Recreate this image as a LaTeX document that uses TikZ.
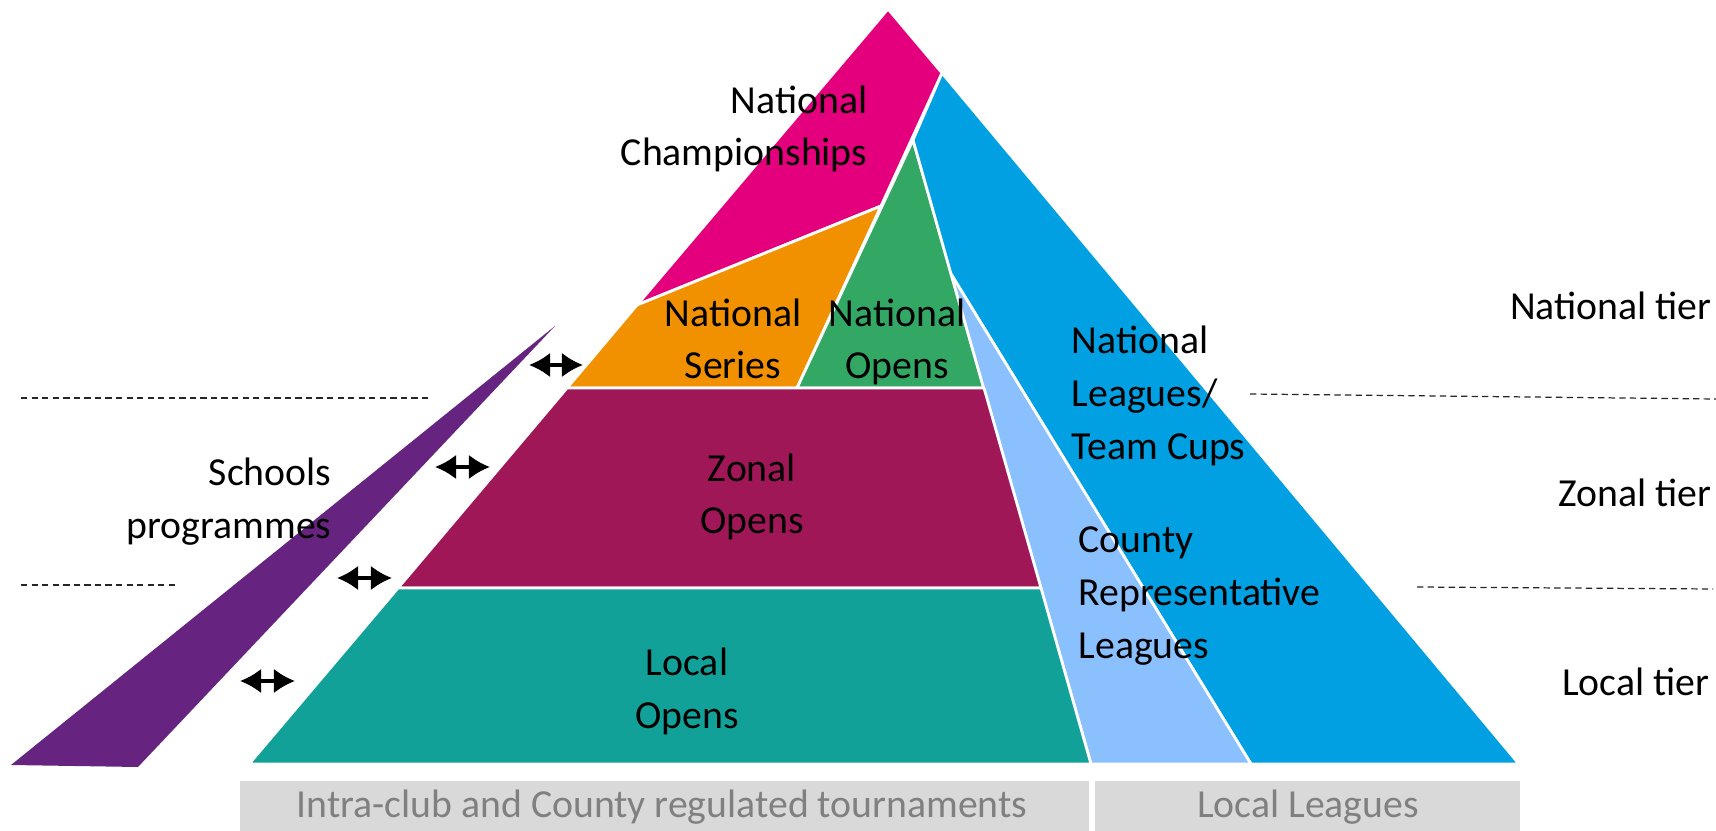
\documentclass[tikz,border=0pt]{standalone}
\usepackage{fontspec}
\setmainfont{Carlito}
\usetikzlibrary{arrows.meta}
\definecolor{cMag}{RGB}{228,0,124}
\definecolor{cOra}{RGB}{241,145,0}
\definecolor{cGre}{RGB}{50,168,100}
\definecolor{cBlu}{RGB}{0,160,226}
\definecolor{cLbl}{RGB}{139,192,255}
\definecolor{cMar}{RGB}{160,23,88}
\definecolor{cTea}{RGB}{18,161,152}
\definecolor{cPur}{RGB}{102,36,128}
\definecolor{cBar}{RGB}{217,217,217}
\definecolor{cBarTxt}{RGB}{128,128,128}
\begin{document}
\begin{tikzpicture}[x=0.01cm,y=-0.01cm,
  seg/.style={draw=white,line width=0.8pt,line join=round},
  lbl/.style={font=\fontsize{11.3}{15}\selectfont,inner sep=0pt,text=black},
  bartxt/.style={font=\fontsize{11.3}{15}\selectfont,inner sep=0pt,text=cBarTxt},
  dline/.style={dash pattern=on 1.8pt off 1.2pt,line width=0.35pt,draw=black!85},
  dbl/.style={{Latex[length=6pt,width=7pt]}-{Latex[length=6pt,width=7pt]},line width=0.9pt},
]
\useasboundingbox (0,0) rectangle (1716,831);

% schools wedge
\fill[cPur] (555,326) -- (138,767) -- (11,765) -- cycle;

% pyramid pieces
\filldraw[seg,fill=cMag] (888,9) -- (942,73) -- (881,206) -- (637,305) -- cycle;
\filldraw[seg,fill=cOra] (881,206) -- (797,388) -- (567,388) -- (637,305) -- cycle;
\filldraw[seg,fill=cGre] (913,140) -- (984,388) -- (797,388) -- cycle;
\filldraw[seg,fill=cBlu] (942,73) -- (1519,764) -- (1251,764) -- (951,274) -- (913,140) -- cycle;
\filldraw[seg,fill=cLbl] (951,274) -- (1251,764) -- (1091,764) -- cycle;
\filldraw[seg,fill=cMar] (567,388) -- (984,388) -- (1041,588) -- (398,588) -- cycle;
\filldraw[seg,fill=cTea] (398,588) -- (1041,588) -- (1091,764) -- (249,764) -- cycle;

% bottom bars
\fill[cBar] (240,781) rectangle (1089,831);
\fill[cBar] (1095,781) rectangle (1520,831);

% dashed tier lines
\coordinate (dl1a) at (21,398); \coordinate (dl1b) at (430,398);
\coordinate (dl2a) at (21,585); \coordinate (dl2b) at (179,585);
\coordinate (dr1a) at (1250,394); \coordinate (dr1b) at (1716,399);
\coordinate (dr2a) at (1417,587); \coordinate (dr2b) at (1713,589);
\draw[dline] (dl1a) -- (dl1b);
\draw[dline] (dl2a) -- (dl2b);
\draw[dline] (dr1a) -- (dr1b);
\draw[dline] (dr2a) -- (dr2b);

% double arrows
\coordinate (a1l) at (529,365); \coordinate (a1r) at (583,365);
\coordinate (a2l) at (435,467); \coordinate (a2r) at (490,467);
\coordinate (a3l) at (337,578); \coordinate (a3r) at (392,578);
\coordinate (a4l) at (240,681); \coordinate (a4r) at (295,681);
\draw[dbl] (a1l) -- (a1r);
\draw[dbl] (a2l) -- (a2r);
\draw[dbl] (a3l) -- (a3r);
\draw[dbl] (a4l) -- (a4r);

% labels (base anchor = baseline of last line)
\node[lbl,align=right,anchor=base east] (champ) at (868,166) {National\\Championships};
\node[lbl,align=center,anchor=base] (series) at (733,379) {National\\Series};
\node[lbl,align=center,anchor=base] (nopens) at (897,379) {National\\Opens};
\node[lbl,align=center,anchor=base] (zonal) at (752,534) {Zonal\\Opens};
\node[lbl,align=center,anchor=base] (local) at (687,728) {Local\\Opens};
\node[lbl,align=right,anchor=base east] (schools) at (332,538) {Schools\\programmes};
\node[lbl,align=left,anchor=base west] (nleague) at (1071,459) {National\\Leagues/\\Team Cups};
\node[lbl,align=left,anchor=base west] (county) at (1078,658) {County\\Representative\\Leagues};
\node[lbl,anchor=base east] (ntier) at (1712,320) {National tier};
\node[lbl,anchor=base east] (ztier) at (1712,507) {Zonal tier};
\node[lbl,anchor=base east] (ltier) at (1710,695) {Local tier};
\node[bartxt,anchor=base] (bar1) at (662,817) {Intra-club and County regulated tournaments};
\node[bartxt,anchor=base] (bar2) at (1308,817) {Local Leagues};
\end{tikzpicture}
\end{document}
